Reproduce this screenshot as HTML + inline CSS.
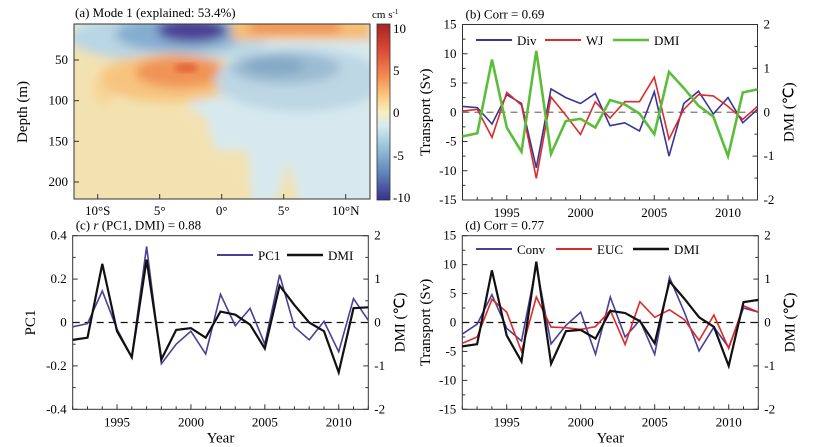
<!DOCTYPE html>
<html><head><meta charset="utf-8">
<style>
html,body{margin:0;padding:0;background:#fff;}
svg{display:block;font-family:"Liberation Serif",serif;}
</style></head>
<body>
<svg id="fig" width="820" height="447" viewBox="0 0 820 447" xmlns="http://www.w3.org/2000/svg">
<defs>
<filter id="blur" x="-20%" y="-20%" width="140%" height="140%"><feGaussianBlur stdDeviation="5"/></filter>
<filter id="blur2"><feGaussianBlur stdDeviation="3"/></filter>
<clipPath id="clipA"><rect x="74" y="24" width="296" height="175"/></clipPath>
<linearGradient id="cbar" x1="0" y1="0" x2="0" y2="1">
<stop offset="0" stop-color="#a82226"/><stop offset="0.15" stop-color="#dd4a34"/><stop offset="0.3" stop-color="#f48d52"/><stop offset="0.42" stop-color="#fbcf87"/><stop offset="0.5" stop-color="#f7eec0"/><stop offset="0.58" stop-color="#d6eaf0"/><stop offset="0.7" stop-color="#98c2da"/><stop offset="0.85" stop-color="#5d83b9"/><stop offset="1" stop-color="#3a2f8c"/>
</linearGradient>
</defs>

<g>
<g clip-path="url(#clipA)">
<rect x="74" y="24" width="296" height="175" fill="#f3e2b1"/>
<g filter="url(#blur)">
<rect x="74" y="20" width="300" height="26" fill="#d7e9ef"/>
<polygon points="225,20 375,20 375,205 300,205 288,160 275,205 252,205 248,150 215,150 205,115 190,110 190,95 230,90" fill="#d7e9ef"/>
<ellipse cx="105" cy="90" rx="11" ry="15" fill="#f7d496"/>
<ellipse cx="170" cy="38" rx="100" ry="24" fill="#b9d6e4"/>
<ellipse cx="180" cy="34" rx="65" ry="18" fill="#86add0"/>
<ellipse cx="192" cy="30" rx="35" ry="12" fill="#4b3f96"/>
<ellipse cx="170" cy="78" rx="70" ry="24" fill="#f7c47f"/>
<ellipse cx="180" cy="72" rx="45" ry="16" fill="#f09456"/>
<ellipse cx="300" cy="80" rx="85" ry="32" fill="#bdd7e4"/>
<ellipse cx="285" cy="68" rx="55" ry="16" fill="#9cbcd2"/>
<ellipse cx="275" cy="66" rx="30" ry="9" fill="#84a9c6"/>
<rect x="232" y="20" width="140" height="20" fill="#f7bc72"/>
<rect x="250" y="20" width="90" height="13" fill="#f08f4f"/>
</g>
<ellipse cx="186" cy="68" rx="12" ry="5" fill="#e4673c" filter="url(#blur2)"/>
</g>
<rect x="74" y="24" width="296" height="175" fill="none" stroke="#333" stroke-width="1"/>
<text x="75" y="17" font-size="13">(a) Mode 1 (explained: 53.4%)</text>
<text x="27" y="112" font-size="15" transform="rotate(-90 27 112)" text-anchor="middle">Depth (m)</text>
<g id="aTicks" font-size="13"></g>
<rect x="377" y="24" width="13" height="176" fill="url(#cbar)" stroke="#333" stroke-width="0.8"/>
<text x="372" y="18" font-size="11">cm s<tspan dy="-4" font-size="7">-1</tspan></text>
<g font-size="13">
<text x="393" y="33">10</text><text x="393" y="75">5</text><text x="393" y="117">0</text><text x="393" y="160">-5</text><text x="393" y="202">-10</text>
</g>
</g>

<g id="panels"></g>
</svg>

<script>
const years = [1992,1993,1994,1995,1996,1997,1998,1999,2000,2001,2002,2003,2004,2005,2006,2007,2008,2009,2010,2011,2012];
const yearTicks = [1995,2000,2005,2010];
const divB = [1,0.8,-2,3,1.5,-9.5,4,2.5,1.5,3.2,-2.3,-1.8,-3.2,3.5,-7.5,1.5,3.6,-0.3,2.5,-1.8,0.5];
const wjB = [0.2,0.5,-4.3,3.4,1.2,-11.3,2.6,-0.5,-3.8,1.8,-1,1.8,1.8,6,-4.6,0.5,3,2.8,1,-1.2,1];
const dmiB = [-0.55,-0.48,1.2,-0.35,-0.9,1.4,-0.95,-0.2,-0.15,-0.35,0.28,0.18,-0.03,-0.5,0.92,0.55,0.15,-0.1,-1,0.45,0.52];
const pc1C = [-0.02,-0.005,0.145,-0.03,-0.16,0.35,-0.19,-0.1,-0.04,-0.145,0.13,-0.015,0.065,-0.1,0.22,-0.02,-0.08,0.005,-0.135,0.11,0.01];
const dmiC = [-0.4,-0.35,1.35,-0.2,-0.8,1.45,-0.85,-0.17,-0.13,-0.35,0.25,0.18,-0.05,-0.6,0.85,0.4,0,-0.2,-1.15,0.33,0.35];
const convD = [-2,-0.3,4.8,-1,-3.2,9.8,-3.7,-0.5,1.8,-5.5,4.4,-2.5,0.4,-5.5,7.8,1.8,-4.9,-0.8,-4.3,2.5,1.8];
const eucD = [-3.6,-2.5,4,1.8,-5,4.4,-0.8,-0.9,-1.2,-0.7,2.1,-3.8,3.6,0.9,2.2,0.5,-3.1,1.3,-4.5,2.9,1.8];
const dmiD = [-0.55,-0.5,1.2,-0.3,-0.9,1.4,-0.95,-0.2,-0.17,-0.37,0.27,0.22,0.03,-0.48,0.95,0.55,0.12,-0.1,-1,0.47,0.52];
const svTicks = [-15,-10,-5,0,5,10,15];
const dmiTicks = [-2,-1,0,1,2];
const pcTicks = [-0.4,-0.2,0,0.2,0.4];
const depthTicks = [50,100,150,200];
const latTicks = [-10,-5,0,5,10];
const latLabels = ["10°S","5°","0°","5°","10°N"];

const NS="http://www.w3.org/2000/svg";
function mk(tag,attrs,parent,text){const e=document.createElementNS(NS,tag);for(const k in attrs)e.setAttribute(k,attrs[k]);if(text!==undefined)e.textContent=text;parent.appendChild(e);return e;}

const aT=document.getElementById('aTicks');


const yDepth=d=>60+(d-50)*(122/150);
const xLat=l=>221.7+l*12.4;
depthTicks.forEach(d=>{const y=yDepth(d);mk('line',{x1:74,x2:79,y1:y,y2:y,stroke:'#333'},aT);mk('text',{x:68,y:y+4,'text-anchor':'end'},aT,String(d));});
latTicks.forEach((l,i)=>{const x=xLat(l);mk('line',{x1:x,x2:x,y1:199,y2:194,stroke:'#333'},aT);mk('text',{x:x,y:215,'text-anchor':'middle'},aT,latLabels[i]);});

const P=document.getElementById('panels');
function panel(cfg){
  const g=mk('g',{},P);
  
  
  const {x0,x1,y0,y1}=cfg;
  const xs=yr=>x0+(yr-1992)/20*(x1-x0);
  const yl=v=>y1-(v-cfg.lmin)/(cfg.lmax-cfg.lmin)*(y1-y0);
  const yr=v=>y1-(v+2)/4*(y1-y0);
  mk('rect',{x:x0,y:y0,width:x1-x0,height:y1-y0,fill:'none',stroke:'#333','stroke-width':1},g);
  cfg.lticks.forEach(t=>{const y=yl(t);mk('line',{x1:x0,x2:x0+5,y1:y,y2:y,stroke:'#333'},g);mk('text',{x:x0-6,y:y+4,'text-anchor':'end','font-size':13},g,cfg.lfmt(t));});
  for(let i=0;i<cfg.lticks.length-1;i++){const m=(cfg.lticks[i]+cfg.lticks[i+1])/2;const y=yl(m);mk('line',{x1:x0,x2:x0+3,y1:y,y2:y,stroke:'#333'},g);}
  dmiTicks.forEach(t=>{const y=yr(t);mk('line',{x1:x1,x2:x1-5,y1:y,y2:y,stroke:'#333'},g);mk('text',{x:x1+6,y:y+4,'font-size':13},g,String(t));});
  for(let t=-1.5;t<2;t+=1){const y=yr(t);mk('line',{x1:x1,x2:x1-3,y1:y,y2:y,stroke:'#333'},g);}
  years.forEach(yy=>{const x=xs(yy);const big=yearTicks.includes(yy);mk('line',{x1:x,x2:x,y1:y1,y2:y1-(big?5:3),stroke:'#333'},g);});
  yearTicks.forEach(yy=>mk('text',{x:xs(yy),y:y1+17,'text-anchor':'middle','font-size':13},g,String(yy)));
  if(cfg.xtitle){const t=mk('text',{x:(x0+x1)/2,y:y1+33,'text-anchor':'middle','font-size':15},g,'Year');}
  const lt=mk('text',{x:cfg.ltx,y:(y0+y1)/2,'text-anchor':'middle','font-size':15,transform:`rotate(-90 ${cfg.ltx} ${(y0+y1)/2})`},g,cfg.ltitle);
  
  const rtx=x1+36;
  const rt=mk('text',{x:rtx,y:(y0+y1)/2,'text-anchor':'middle','font-size':15,transform:`rotate(-90 ${rtx} ${(y0+y1)/2})`},g,'DMI (℃)');
  
  const tt=mk('text',{x:x0+3,y:y0-6,'font-size':13},g);tt.innerHTML=cfg.title;
  
  const z=mk('line',{x1:x0,x2:x1,y1:yl(0),y2:yl(0),stroke:cfg.zc,'stroke-width':1.3,'stroke-dasharray':'7,5'},g);
  
  cfg.series.forEach(s=>{
    const f=s.right?yr:yl;
    const pts=s.data.map((v,i)=>xs(years[i]).toFixed(1)+','+f(v).toFixed(1)).join(' ');
    const pl=mk('polyline',{points:pts,fill:'none',stroke:s.c,'stroke-width':s.w,'stroke-linejoin':'miter'},g);
    
    
  });
  cfg.legend.forEach(l=>{
    const lg=mk('g',{},g);
    
    
    mk('line',{x1:l.x,x2:l.x+36,y1:l.y,y2:l.y,stroke:l.c,'stroke-width':l.w},lg);
    mk('text',{x:l.x+41,y:l.y+5,'font-size':13},lg,l.label);
  });
}
const f0=t=>String(t);
const fpc=t=>t===0?'0':t.toFixed(1);
panel({name:'panel-b-chart',x0:462.5,x1:757.5,y0:24.5,y1:200,lmin:-15,lmax:15,lticks:svTicks,lfmt:f0,ltitle:'Transport (Sv)',ltx:430,
 title:'(b) Corr = 0.69',zc:'#777',xtitle:false,
 series:[{id:'div',data:divB,c:'#3a3593',w:1.6},{id:'wj',data:wjB,c:'#dd2a2a',w:1.6},{id:'dmi',data:dmiB,c:'#5cbd3a',w:2.6,right:true}],
 legend:[{x:476,y:40,c:'#3a3593',w:2,label:'Div'},{x:545,y:40,c:'#dd2a2a',w:2,label:'WJ'},{x:613,y:40,c:'#5cbd3a',w:2.6,label:'DMI'}]});
panel({name:'panel-c-chart',x0:72.7,x1:368.3,y0:235.7,y1:409.3,lmin:-0.4,lmax:0.4,lticks:pcTicks,lfmt:fpc,ltitle:'PC1',ltx:35,
 title:'(c) <tspan font-style="italic">r</tspan> (PC1, DMI) = 0.88',zc:'#111',xtitle:true,
 series:[{id:'pc1',data:pc1C,c:'#4a3f96',w:1.6},{id:'dmi',data:dmiC,c:'#111',w:2.2,right:true}],
 legend:[{x:217,y:255,c:'#4a3f96',w:2,label:'PC1'},{x:287,y:255,c:'#111',w:2.4,label:'DMI'}]});
panel({name:'panel-d-chart',x0:462.3,x1:758.3,y0:235.7,y1:409.3,lmin:-15,lmax:15,lticks:svTicks,lfmt:f0,ltitle:'Transport (Sv)',ltx:430,
 title:'(d) Corr = 0.77',zc:'#111',xtitle:true,
 series:[{id:'conv',data:convD,c:'#4a3f96',w:1.6},{id:'euc',data:eucD,c:'#dd2a2a',w:1.6},{id:'dmi',data:dmiD,c:'#111',w:2.2,right:true}],
 legend:[{x:476,y:249,c:'#4a3f96',w:2,label:'Conv'},{x:556,y:249,c:'#dd2a2a',w:2,label:'EUC'},{x:633,y:249,c:'#111',w:2.4,label:'DMI'}]});
</script>
</body></html>
